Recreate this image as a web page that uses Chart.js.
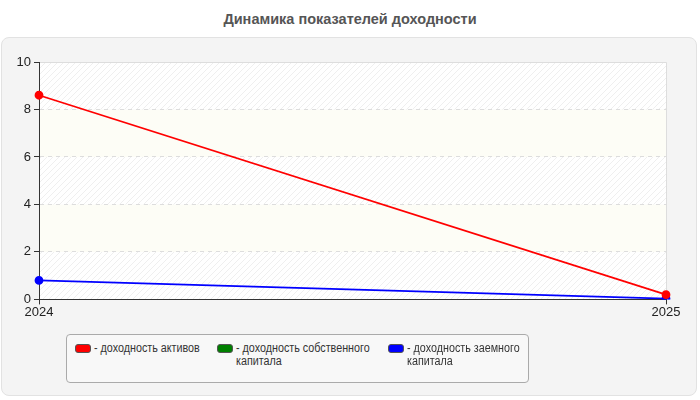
<!DOCTYPE html>
<html>
<head>
<meta charset="utf-8">
<script src="https://cdn.jsdelivr.net/npm/chart.js@4"></script>
<style>
  body { margin: 0; background: #fff; font-family: "Liberation Sans", Arial, sans-serif; }
  #wrap { position: relative; width: 700px; height: 400px; }
  #title { position: absolute; left: 0; top: 11px; width: 700px; text-align: center;
           font-weight: bold; font-size: 14.5px; color: #555; }
  #panel { position: absolute; left: 1px; top: 37px; width: 694px; height: 357px;
           background: #f4f4f4; border: 1px solid #e2e2e2; border-radius: 8px; }
  canvas { position: absolute; left: 0; top: 0; }
  #legend { position: absolute; left: 66px; top: 334px; width: 461px; height: 47px;
            background: #f8f8f8; border: 1px solid #aaa; border-radius: 4px; }
  .item { position: absolute; top: 7px; font-size: 12.5px; color: #333; line-height: 13px; }
  .sw { position: absolute; left: 0; top: 2px; width: 14px; height: 7px; border: 1px solid #555; border-radius: 3px; }
  .txt { position: absolute; left: 19px; top: 0; transform: scaleX(0.86); transform-origin: 0 0; }
</style>
</head>
<body>
<div id="wrap">
  <div id="title">Динамика показателей доходности</div>
  <div id="panel"></div>
  <canvas id="c" width="700" height="400"></canvas>
  <div id="legend"></div>
</div>
<script>
const years = ['2024', '2025'];
const seriesNames = ['доходность активов', 'доходность собственного капитала', 'доходность заемного капитала'];
const assetsReturn = [8.6, 0.2];
const equityReturn = [null, null];
const debtReturn = [0.8, 0.03];
const colors = ['#ff0000', '#008000', '#0000ff'];

// штриховка для полос
function hatch(ctx) {
  const p = document.createElement('canvas');
  p.width = 6; p.height = 6;
  const g = p.getContext('2d');
  g.fillStyle = '#ffffff';
  g.fillRect(0, 0, 6, 6);
  g.strokeStyle = '#efefef';
  g.lineWidth = 1;
  g.beginPath();
  g.moveTo(0, 6); g.lineTo(6, 0);
  g.moveTo(-1, 1); g.lineTo(1, -1);
  g.moveTo(5, 7); g.lineTo(7, 5);
  g.stroke();
  return ctx.createPattern(p, 'repeat');
}

// фон области построения
const plotBg = {
  id: 'plotBg',
  beforeDraw(chart) {
    const {ctx, chartArea: a, scales: {y}} = chart;
    ctx.save();
    const pat = hatch(ctx);
    for (let v = 0; v < 10; v += 2) {
      const top = y.getPixelForValue(v + 2), bot = y.getPixelForValue(v);
      ctx.fillStyle = (v / 2) % 2 === 0 ? pat : '#fdfdf6';
      ctx.fillRect(a.left, top, a.right - a.left, bot - top);
    }
    ctx.strokeStyle = '#dddddd';
    ctx.lineWidth = 1;
    ctx.beginPath();
    ctx.moveTo(a.left, a.top + 0.5);
    ctx.lineTo(a.right + 0.5, a.top + 0.5);
    ctx.lineTo(a.right + 0.5, a.bottom);
    ctx.stroke();
    ctx.restore();
  }
};

new Chart(document.getElementById('c'), {
  type: 'line',
  data: {
    labels: years,
    datasets: [assetsReturn, equityReturn, debtReturn].map((d, i) => ({
      label: seriesNames[i],
      data: d,
      borderColor: colors[i],
      backgroundColor: colors[i],
      borderWidth: 1.8,
      pointRadius: 3.5,
      pointHoverRadius: 3.5,
      tension: 0
    }))
  },
  options: {
    responsive: false,
    animation: false,
    layout: { padding: { top: 62, right: 34, bottom: 80, left: 10 } },
    plugins: { legend: { display: false }, title: { display: false }, tooltip: { enabled: false } },
    scales: {
      x: {
        offset: false,
        grid: { drawOnChartArea: false, tickLength: 5, tickColor: '#333' },
        border: { color: '#333' },
        ticks: { color: '#222', font: { size: 13, family: 'Liberation Sans' }, padding: 0, maxRotation: 0 }
      },
      y: {
        min: 0, max: 10,
        afterFit(s) { s.width = 29; },
        grid: {
          tickLength: 5, tickColor: '#333',
          color: c => (c.tick && (c.tick.value === 0 || c.tick.value === 10)) ? 'rgba(0,0,0,0)' : '#dddddd'
        },
        border: { color: '#333', dash: [4, 4] },
        ticks: { stepSize: 2, color: '#222', font: { size: 13, family: 'Liberation Sans' }, padding: 3 }
      }
    }
  },
  plugins: [plotBg]
});

// легенда
const legend = document.getElementById('legend');
const xs = [8, 150, 321];
const widths = [170, 165, 150];
seriesNames.forEach((name, i) => {
  const it = document.createElement('div');
  it.className = 'item';
  it.style.left = xs[i] + 'px';
  it.innerHTML = '<div class="sw" style="background:' + colors[i] + '"></div><div class="txt" style="width:' + widths[i] + 'px">- ' + name + '</div>';
  legend.appendChild(it);
});
</script>
</body>
</html>
